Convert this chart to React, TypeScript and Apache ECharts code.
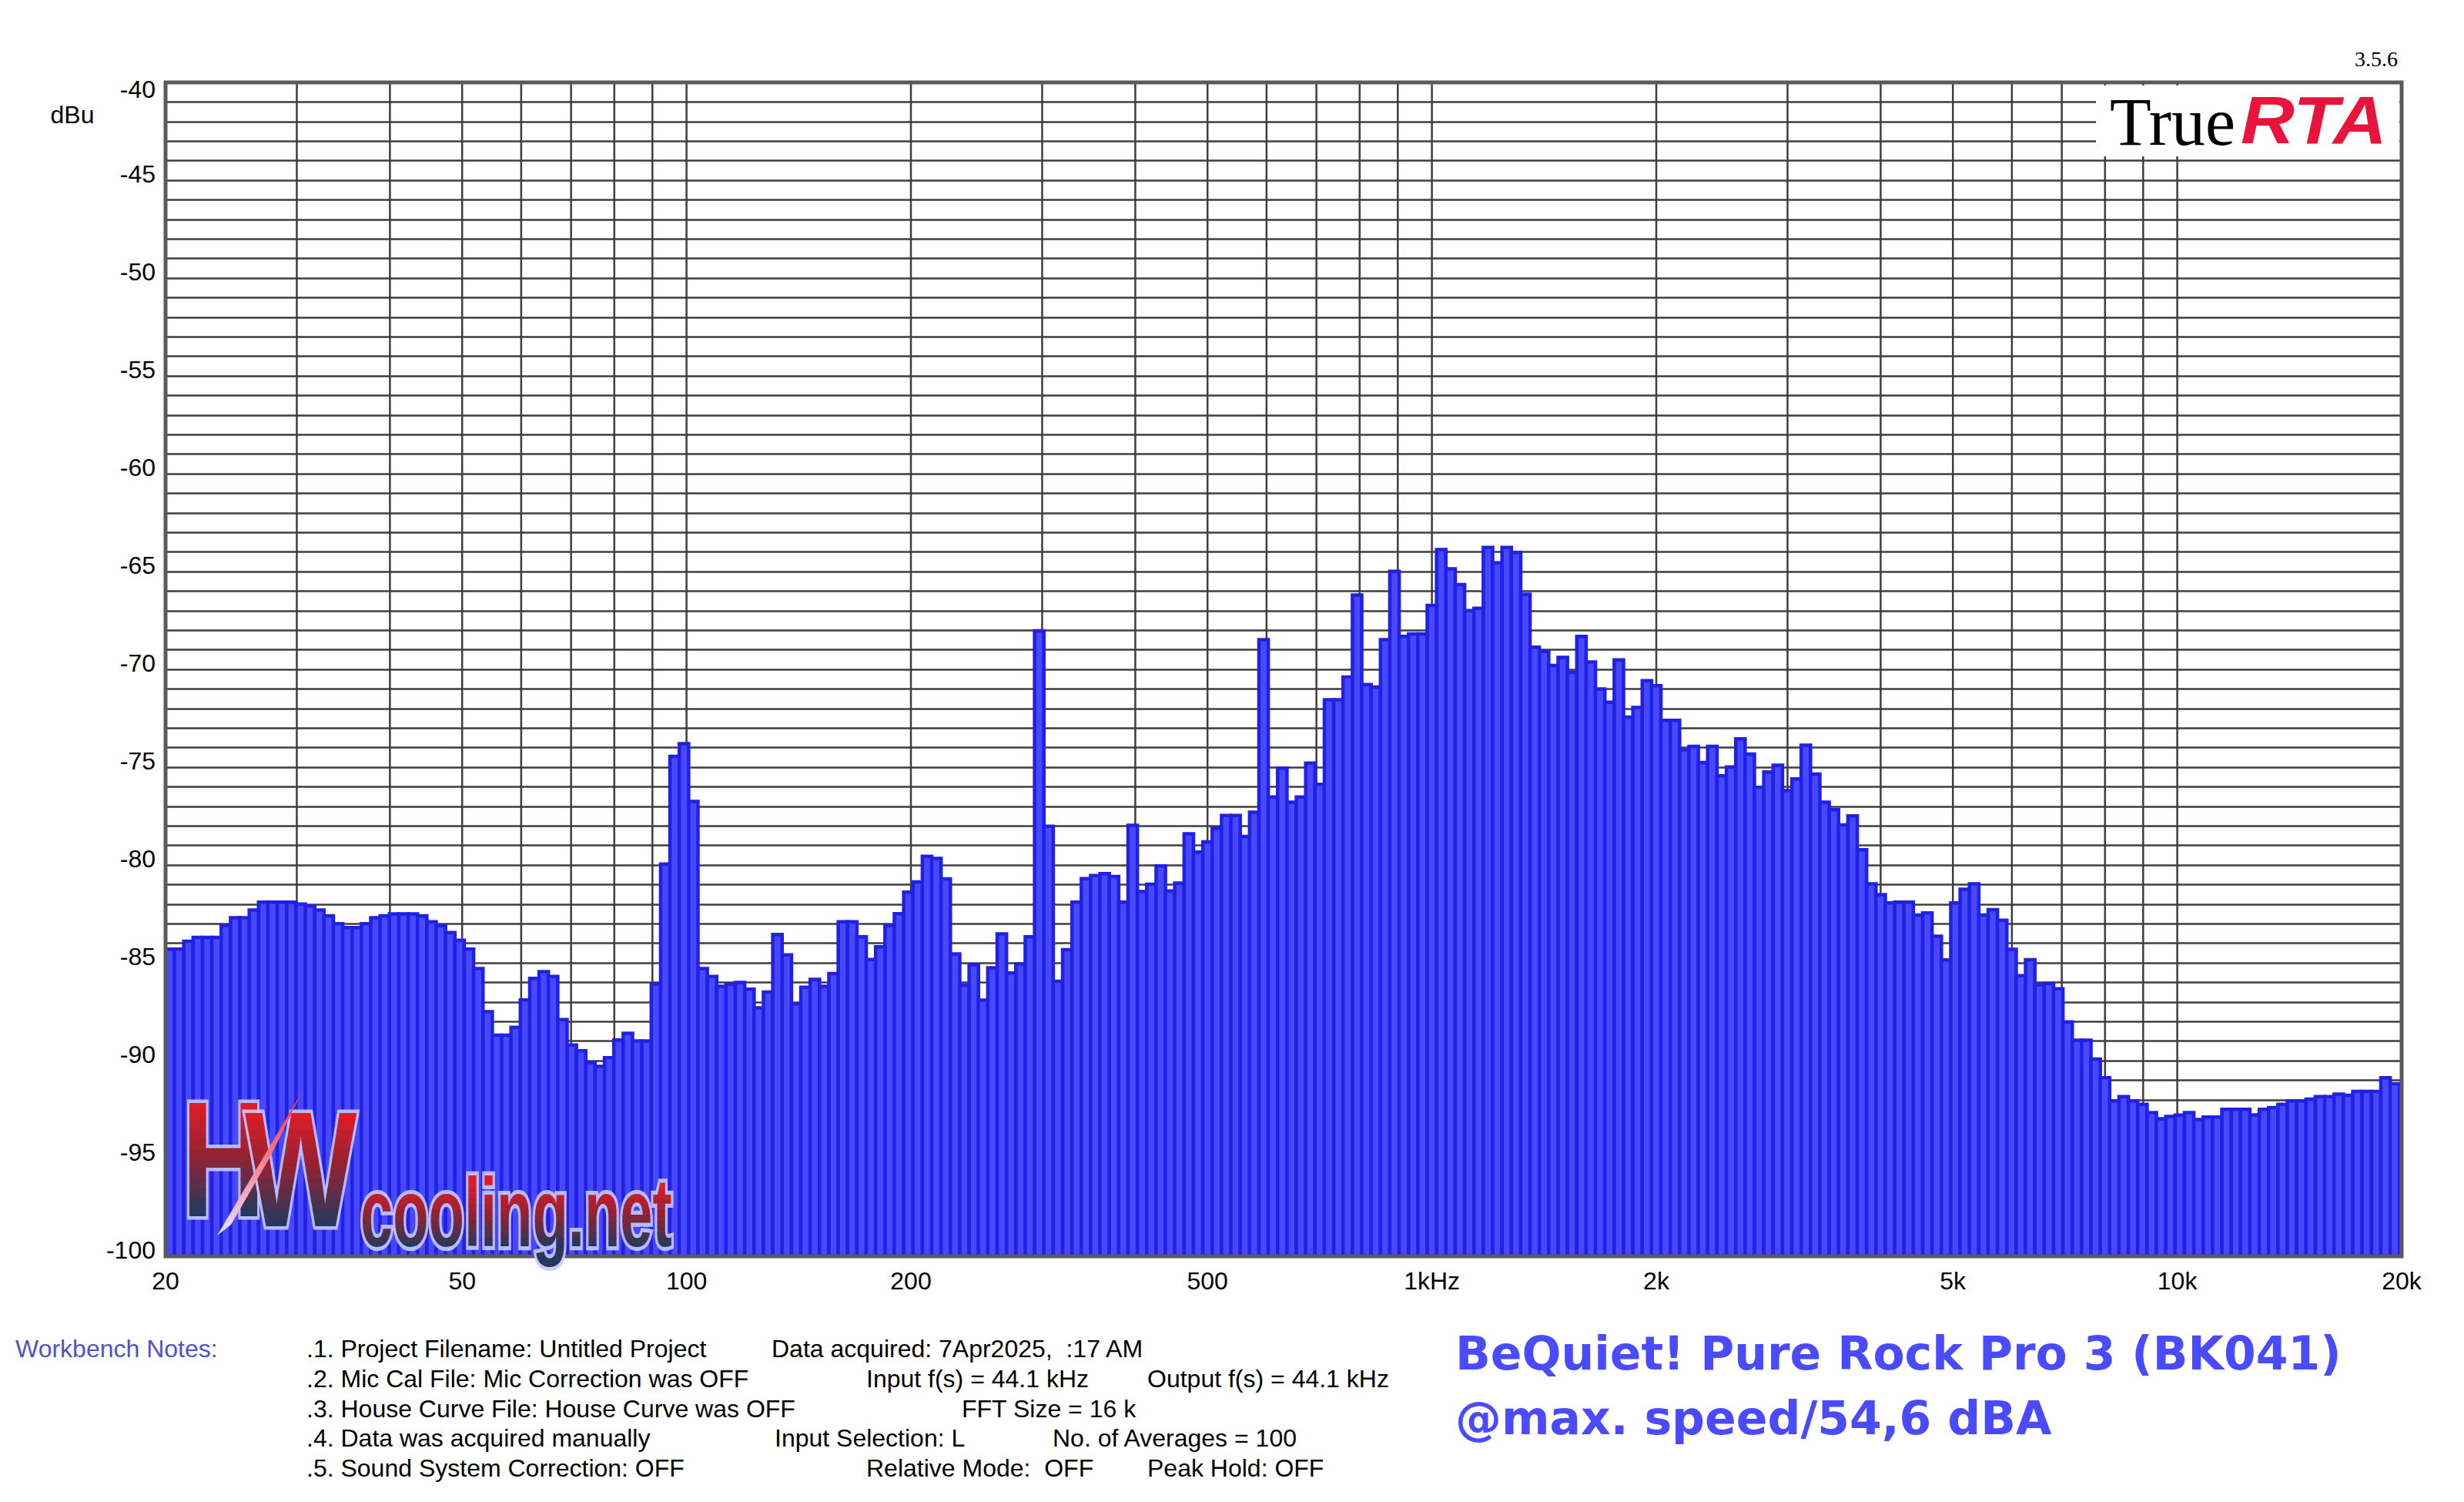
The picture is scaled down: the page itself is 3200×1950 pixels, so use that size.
import React, { useEffect, useRef } from "react";
import * as echarts from "echarts";

// 1/24-octave band levels in dBu, lowest band first
const LEVELS_20_TO_80_HZ = [
  -84.3, -84.3, -83.9, -83.7, -83.7, -83.7, -83.1, -82.7, -82.7, -82.3,
  -81.9, -81.9, -81.9, -81.9, -82.0, -82.1, -82.3, -82.6, -83.0, -83.2,
  -83.2, -83.0, -82.7, -82.6, -82.5, -82.5, -82.5, -82.6, -82.9, -83.1,
  -83.45, -83.85, -84.3, -85.3, -87.5, -88.7, -88.7, -88.3, -86.9, -85.8,
  -85.45, -85.7, -87.9, -89.2, -89.5, -90.1, -90.3, -89.85,
];
const LEVELS_80_TO_320_HZ = [
  -88.95, -88.6, -89.0, -89.0, -86.1, -79.95, -74.45, -73.8, -76.75, -85.3,
  -85.7, -86.2, -86.1, -86.0, -86.35, -87.3, -86.5, -83.55, -84.6, -87.1,
  -86.25, -85.85, -86.2, -85.55, -82.9, -82.9, -83.67, -84.83, -84.18, -83.09,
  -82.49, -81.39, -80.87, -79.56, -79.67, -80.71, -84.55, -86.14, -85.1, -86.91,
  -85.26, -83.52, -85.52, -85.06, -83.67, -68.03, -78.02, -85.94,
];
const LEVELS_320_TO_1280_HZ = [
  -84.33, -81.9, -80.7, -80.54, -80.44, -80.59, -81.9, -77.97, -81.36, -80.98,
  -80.05, -81.33, -80.93, -78.41, -79.34, -78.82, -78.12, -77.47, -77.47, -78.54,
  -77.3, -68.48, -76.53, -75.05, -76.79, -76.53, -74.79, -75.88, -71.56, -71.56,
  -70.39, -66.2, -70.78, -70.91, -68.48, -64.99, -68.32, -68.19, -68.19, -66.73,
  -63.88, -64.86, -65.67, -67.0, -66.88, -63.77, -64.56, -63.77,
];
const LEVELS_1K3_TO_5K_HZ = [
  -64.03, -66.16, -68.87, -69.08, -69.8, -69.39, -70.15, -68.32, -69.63, -71.0,
  -71.68, -69.52, -72.44, -71.95, -70.58, -70.84, -72.61, -72.61, -74.11, -73.94,
  -74.76, -73.94, -75.44, -74.99, -73.55, -74.33, -76.03, -75.25, -74.9, -76.2,
  -75.6, -73.88, -75.35, -76.79, -77.18, -77.95, -77.49, -79.22, -80.96, -81.52,
  -81.94, -81.9, -81.9, -82.56, -82.45, -83.64, -84.85, -81.94,
];
const LEVELS_5K_TO_20K_HZ = [
  -81.24, -80.96, -82.56, -82.28, -82.82, -84.31, -85.66, -84.84, -86.12, -86.05,
  -86.33, -88.02, -88.96, -88.96, -89.92, -90.88, -92.06, -91.84, -92.06, -92.23,
  -92.66, -92.97, -92.85, -92.79, -92.66, -93.01, -92.88, -92.88, -92.49, -92.49,
  -92.49, -92.78, -92.49, -92.4, -92.23, -92.06, -92.06, -91.97, -91.84, -91.84,
  -91.71, -91.77, -91.57, -91.57, -91.57, -90.88, -91.18,
];

const BANDS_PER_OCTAVE = 24;
const FIRST_BAND_FROM_1K = -135; // band index of the first band, counted from 1 kHz
const X_MIN = 20;
const X_MAX = 20000;
const Y_MIN = -100;
const Y_MAX = -40;
const X_LABEL_VALUES = [20, 50, 100, 200, 500, 1000, 2000, 5000, 10000, 20000];
const X_GRID_VALUES = [
  30, 40, 50, 60, 70, 80, 90, 100, 200, 300, 400, 500, 600, 700, 800, 900,
  1000, 2000, 3000, 4000, 5000, 6000, 7000, 8000, 9000, 10000,
];

const TITLE_LINES = ["BeQuiet! Pure Rock Pro 3 (BK041)", "@max. speed/54,6 dBA"];
const NOTES_HEADER = "Workbench Notes:";
const NOTES_COL1 = [
  ".1. Project Filename: Untitled Project",
  ".2. Mic Cal File: Mic Correction was OFF",
  ".3. House Curve File: House Curve was OFF",
  ".4. Data was acquired manually",
  ".5. Sound System Correction: OFF",
];
const NOTES_EXTRA = [
  { row: 0, col: 1002, text: "Data acquired: 7Apr2025,  :17 AM" },
  { row: 1, col: 1125, text: "Input f(s) = 44.1 kHz" },
  { row: 1, col: 1490, text: "Output f(s) = 44.1 kHz" },
  { row: 2, col: 1249, text: "FFT Size = 16 k" },
  { row: 3, col: 1006, text: "Input Selection: L" },
  { row: 3, col: 1367, text: "No. of Averages = 100" },
  { row: 4, col: 1125, text: "Relative Mode:  OFF" },
  { row: 4, col: 1490, text: "Peak Hold: OFF" },
];

// watermark letters: text, position, scale, size, and the vertical range of its colour gradient
const WATERMARK = [
  { text: "H", x: 236, y: 1505, sx: 0.7, sy: 1.0, size: 214, top: 1428, bottom: 1582 },
  { text: "W", x: 318, y: 1518, sx: 0.72, sy: 1.0, size: 214, top: 1440, bottom: 1596 },
  { text: "cooling.net", x: 468, y: 1574, sx: 0.69, sy: 1.15, size: 110, top: 1535, bottom: 1622 },
];
const LOGO_STOPS = [
  { t: 0, c: [228, 29, 38] },
  { t: 0.45, c: [150, 34, 50] },
  { t: 1, c: [27, 59, 96] },
];

const GRID = { left: 215, top: 107, width: 2904, height: 1524 };
const SANS = "Liberation Sans";
const SERIF = "Liberation Serif";

function logoColor(t: number) {
  for (let i = 1; i < LOGO_STOPS.length; i++) {
    const a = LOGO_STOPS[i - 1];
    const b = LOGO_STOPS[i];
    if (t <= b.t) {
      const k = (t - a.t) / (b.t - a.t);
      const c = a.c.map((v, j) => Math.round(v + (b.c[j] - v) * k));
      return `rgb(${c[0]},${c[1]},${c[2]})`;
    }
  }
  const c = LOGO_STOPS[LOGO_STOPS.length - 1].c;
  return `rgb(${c[0]},${c[1]},${c[2]})`;
}

export default function App() {
  const ref = useRef<HTMLDivElement>(null);

  useEffect(() => {
    if (!ref.current) return;
    const chart = echarts.init(ref.current, null, { renderer: "svg" });

    const levels = [
      ...LEVELS_20_TO_80_HZ,
      ...LEVELS_80_TO_320_HZ,
      ...LEVELS_320_TO_1280_HZ,
      ...LEVELS_1K3_TO_5K_HZ,
      ...LEVELS_5K_TO_20K_HZ,
    ];
    const half = Math.pow(2, 1 / (2 * BANDS_PER_OCTAVE));
    const bandRows = levels.map((v, i) => {
      const fc = 1000 * Math.pow(2, (i + FIRST_BAND_FROM_1K) / BANDS_PER_OCTAVE);
      return [fc / half, fc * half, v];
    });

    const rowY = (r: number) => 1751 + r * 38.8;

    // watermark: a halo copy, then colour bands clipped horizontally to fake a vertical gradient
    const BANDS = 12;
    const watermarkChildren: any[] = [];
    WATERMARK.forEach((w) => {
      const base = {
        text: w.text,
        fontSize: w.size,
        fontFamily: SANS,
        fontWeight: "bold",
        align: "left",
        verticalAlign: "middle",
      };
      watermarkChildren.push({
        type: "text",
        x: w.x,
        y: w.y,
        scaleX: w.sx,
        scaleY: w.sy,
        style: { ...base, fill: "rgba(200,200,255,0.9)", stroke: "rgba(200,200,255,0.9)", lineWidth: 9 },
      });
      for (let k = 0; k < BANDS; k++) {
        const h = (w.bottom - w.top) / BANDS;
        let yA = w.top + k * h;
        let yB = yA + h + 1;
        if (k === 0) yA -= 60;
        if (k === BANDS - 1) yB += 60;
        watermarkChildren.push({
          type: "group",
          clipPath: { type: "rect", shape: { x: 0, y: yA, width: 1200, height: yB - yA } },
          children: [
            {
              type: "text",
              x: w.x,
              y: w.y,
              scaleX: w.sx,
              scaleY: w.sy,
              style: { ...base, fill: logoColor((k + 0.5) / BANDS) },
            },
          ],
        });
      }
    });

    const graphics: any[] = [
      {
        type: "rect",
        z: 50,
        silent: true,
        shape: { x: GRID.left, y: GRID.top, width: GRID.width, height: GRID.height },
        style: { fill: "none", stroke: "#5a5a5a", lineWidth: 5 },
      },
      {
        type: "rect",
        z: 40,
        silent: true,
        shape: { x: 2722, y: 111, width: 394, height: 92 },
        style: { fill: "#ffffff" },
      },
      {
        type: "text",
        z: 41,
        x: 2740,
        y: 158,
        style: { text: "True", fontSize: 88, fontFamily: SERIF, fill: "#000", align: "left", verticalAlign: "middle" },
      },
      {
        type: "text",
        z: 41,
        x: 2910,
        y: 156,
        scaleX: 1.1,
        style: {
          text: "RTA",
          fontSize: 88,
          fontFamily: SANS,
          fontWeight: "bold",
          fontStyle: "italic",
          fill: "#e8143c",
          align: "left",
          verticalAlign: "middle",
        },
      },
      {
        type: "text",
        z: 41,
        x: 3114,
        y: 76,
        style: { text: "3.5.6", fontSize: 28, fontFamily: SERIF, fill: "#000", align: "right", verticalAlign: "middle" },
      },
      {
        type: "text",
        x: 94,
        y: 149,
        style: { text: "dBu", fontSize: 32, fontFamily: SANS, fill: "#000", align: "center", verticalAlign: "middle" },
      },
      ...TITLE_LINES.map((t, i) => ({
        type: "text",
        x: 1890,
        y: 1757 + i * 84,
        style: {
          text: t,
          fontSize: 60,
          fontFamily: "DejaVu Sans",
          fontWeight: "bold",
          fill: "#4a4aff",
          align: "left",
          verticalAlign: "middle",
        },
      })),
      {
        type: "text",
        x: 20,
        y: rowY(0),
        style: { text: NOTES_HEADER, fontSize: 32, fontFamily: SANS, fill: "#5252c8", align: "left", verticalAlign: "middle" },
      },
      ...NOTES_COL1.map((t, i) => ({
        type: "text",
        x: 398,
        y: rowY(i),
        style: { text: t, fontSize: 32, fontFamily: SANS, fill: "#000", align: "left", verticalAlign: "middle" },
      })),
      ...NOTES_EXTRA.map((n) => ({
        type: "text",
        x: n.col,
        y: rowY(n.row),
        style: { text: n.text, fontSize: 32, fontFamily: SANS, fill: "#000", align: "left", verticalAlign: "middle" },
      })),
    ];

    const labelText = { fontSize: 32, fontFamily: SANS, color: "#000" };

    chart.setOption({
      animation: false,
      backgroundColor: "#ffffff",
      grid: { left: GRID.left, top: GRID.top, width: GRID.width, height: GRID.height, show: false },
      xAxis: {
        type: "log",
        logBase: 10,
        min: X_MIN,
        max: X_MAX,
        axisLine: { show: false },
        axisTick: { show: false },
        splitLine: { show: false },
        minorSplitLine: { show: false },
        axisLabel: {
          ...labelText,
          margin: 16,
          customValues: X_LABEL_VALUES,
          formatter: (v: number) => {
            const r = Math.round(v);
            if (r === 1000) return "1kHz";
            if (r >= 1000) return r / 1000 + "k";
            return String(r);
          },
        },
      },
      yAxis: {
        type: "value",
        min: Y_MIN,
        max: Y_MAX,
        interval: 1,
        axisLine: { show: false },
        axisTick: { show: false },
        splitLine: { show: true, lineStyle: { color: "#3e3e3e", width: 2.5 } },
        axisLabel: {
          ...labelText,
          margin: 13,
          formatter: (v: number) => {
            const r = Math.round(v);
            if (r % 5 !== 0) return "";
            return r === Y_MAX ? `{top|${r}}` : `{n|${r}}`;
          },
          rich: {
            n: { ...labelText, padding: [0, 0, 16, 0] },
            top: { ...labelText, padding: [18, 0, 0, 0] },
          },
        },
      },
      series: [
        {
          type: "custom",
          name: "grid",
          silent: true,
          z: 1,
          data: X_GRID_VALUES.map((f) => [f, Y_MAX]),
          encode: { x: 0, y: 1 },
          renderItem: (_p: any, api: any) => {
            const f = api.value(0);
            const a = api.coord([f, Y_MAX]);
            const b = api.coord([f, Y_MIN]);
            return {
              type: "line",
              shape: { x1: a[0], y1: a[1], x2: b[0], y2: b[1] },
              style: { stroke: "#3e3e3e", lineWidth: 2.5 },
            };
          },
        },
        {
          type: "custom",
          name: "level",
          z: 2,
          clip: true,
          data: bandRows,
          encode: { x: [0, 1], y: 2 },
          renderItem: (_p: any, api: any) => {
            const lo = api.value(0);
            const hi = api.value(1);
            const v = api.value(2);
            const p1 = api.coord([lo, v]);
            const p2 = api.coord([hi, Y_MIN]);
            return {
              type: "rect",
              shape: { x: p1[0], y: p1[1], width: p2[0] - p1[0], height: p2[1] - p1[1] },
              style: { fill: "#4848ff", stroke: "#2020e6", lineWidth: 4.5 },
            };
          },
        },
        {
          type: "custom",
          name: "watermark",
          silent: true,
          z: 60,
          data: [[X_MIN, Y_MIN]],
          encode: { x: 0, y: 1 },
          renderItem: () => ({
            type: "group",
            children: [
              ...watermarkChildren,
              {
                type: "polygon",
                shape: { points: [[282, 1604], [393, 1416], [352, 1500], [300, 1590]] },
                style: {
                  fill: new echarts.graphic.LinearGradient(0, 0, 0, 1, [
                    { offset: 0, color: "#ff2a2a" },
                    { offset: 1, color: "#e8e0ff" },
                  ]),
                },
              },
            ],
          }),
        },
      ],
      graphic: graphics,
    });

    return () => chart.dispose();
  }, []);

  return (
    <div
      ref={ref}
      style={{ position: "fixed", left: 0, top: 0, width: 3200, height: 1950, background: "#fff" }}
    />
  );
}
